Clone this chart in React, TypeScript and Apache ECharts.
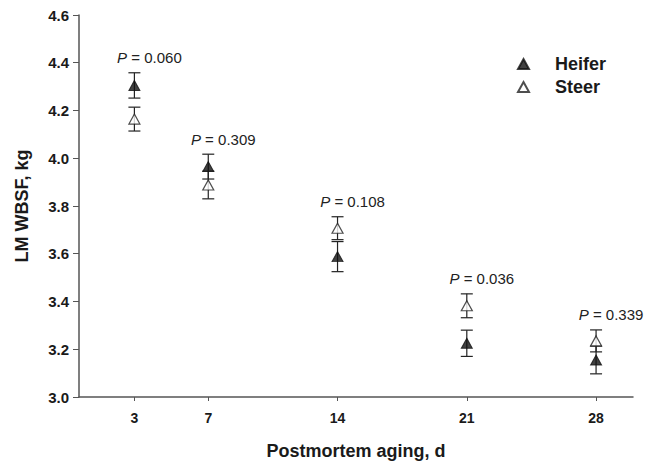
import React, { useEffect, useRef } from "react";
import * as echarts from "echarts";

const days = [3, 7, 14, 21, 28];
const heiferMean = [4.305, 3.965, 3.588, 3.225, 3.155];
const heiferSE = [0.053, 0.052, 0.063, 0.055, 0.058];
const steerMean = [4.164, 3.888, 3.707, 3.382, 3.235];
const steerSE = [0.05, 0.058, 0.048, 0.05, 0.046];
const pValues = ["0.060", "0.309", "0.108", "0.036", "0.339"];
const yTicks = [3.0, 3.2, 3.4, 3.6, 3.8, 4.0, 4.2, 4.4, 4.6];

const FONT = "Liberation Sans, Arial, Helvetica, sans-serif";
const INK = "#1a1a1a";

export default function App() {
  const ref = useRef<HTMLDivElement>(null);
  useEffect(() => {
    if (!ref.current) return;
    const chart = echarts.init(ref.current, undefined, { renderer: "svg" });

    const errData = (means: number[], se: number[]) =>
      days.map((d, i) => [d, means[i] - se[i], means[i] + se[i]]);

    const errRender = (params: any, api: any) => {
      const x = api.value(0);
      const lo = api.coord([x, api.value(1)]);
      const hi = api.coord([x, api.value(2)]);
      const hw = 6;
      const st = { stroke: "#222", lineWidth: 1.2 };
      return {
        type: "group",
        children: [
          { type: "line", shape: { x1: lo[0], y1: lo[1], x2: hi[0], y2: hi[1] }, style: st },
          { type: "line", shape: { x1: lo[0] - hw, y1: lo[1], x2: lo[0] + hw, y2: lo[1] }, style: st },
          { type: "line", shape: { x1: hi[0] - hw, y1: hi[1], x2: hi[0] + hw, y2: hi[1] }, style: st },
        ],
      };
    };

    const pData = days.map((d, i) => [
      d,
      Math.max(heiferMean[i] + heiferSE[i], steerMean[i] + steerSE[i]),
      i,
    ]);

    chart.setOption({
      animation: false,
      grid: {
        left: 79,
        right: 20,
        top: 15,
        bottom: 66,
        containLabel: false,
        outerBoundsMode: "none",
      },
      legend: {
        orient: "vertical",
        left: 512,
        top: 50,
        itemWidth: 11,
        itemHeight: 10,
        itemGap: 5,
        data: [
          { name: "Heifer", icon: "triangle" },
          { name: "Steer", icon: "triangle" },
        ],
        textStyle: {
          fontFamily: FONT,
          fontWeight: "bold",
          fontSize: 18,
          color: INK,
          padding: [0, 0, 0, 21],
        },
      },
      xAxis: {
        type: "value",
        min: 0,
        max: 30,
        name: "Postmortem aging, d",
        nameLocation: "middle",
        nameGap: 45,
        nameTextStyle: { fontFamily: FONT, fontWeight: "bold", fontSize: 18, color: INK },
        axisLine: { lineStyle: { color: "#555", width: 1.5 } },
        axisTick: { show: true, customValues: days, length: 4, lineStyle: { color: "#555" } },
        axisLabel: {
          customValues: days,
          margin: 14,
          fontFamily: FONT,
          fontWeight: "bold",
          fontSize: 14,
          color: INK,
        },
        splitLine: { show: false },
      },
      yAxis: {
        type: "value",
        min: 3.0,
        max: 4.6,
        interval: 0.2,
        name: "LM WBSF, kg",
        nameLocation: "middle",
        nameGap: 48,
        nameTextStyle: { fontFamily: FONT, fontWeight: "bold", fontSize: 18, color: INK },
        axisLine: { show: true, lineStyle: { color: "#555", width: 1.5 } },
        axisTick: { show: true, length: 6, lineStyle: { color: "#555" } },
        axisLabel: {
          customValues: yTicks,
          formatter: (v: number) => v.toFixed(1),
          margin: 10,
          fontFamily: FONT,
          fontWeight: "bold",
          fontSize: 15,
          color: INK,
        },
        splitLine: { show: false },
      },
      series: [
        {
          type: "custom",
          name: "heiferErr",
          renderItem: errRender,
          data: errData(heiferMean, heiferSE),
          z: 1,
          silent: true,
        },
        {
          type: "custom",
          name: "steerErr",
          renderItem: errRender,
          data: errData(steerMean, steerSE),
          z: 1,
          silent: true,
        },
        {
          type: "scatter",
          name: "Heifer",
          symbol: "triangle",
          symbolSize: [11, 10],
          itemStyle: { color: "#111", borderColor: "#111", borderWidth: 1 },
          data: days.map((d, i) => [d, heiferMean[i]]),
          z: 3,
        },
        {
          type: "scatter",
          name: "Steer",
          symbol: "triangle",
          symbolSize: [11, 10],
          itemStyle: { color: "#fff", borderColor: "#222", borderWidth: 1.2 },
          data: days.map((d, i) => [d, steerMean[i]]),
          z: 3,
        },
        {
          type: "custom",
          name: "pLabels",
          silent: true,
          data: pData,
          renderItem: (params: any, api: any) => {
            const pt = api.coord([api.value(0), api.value(1)]);
            const idx = api.value(2);
            return {
              type: "text",
              x: pt[0] + 15,
              y: pt[1] - 15,
              style: {
                text: "{i|P} = " + pValues[idx],
                align: "center",
                verticalAlign: "middle",
                fontFamily: FONT,
                fontSize: 15,
                fill: "#222",
                rich: {
                  i: { fontStyle: "italic", fontFamily: FONT, fontSize: 15, fill: "#222" },
                },
              },
            };
          },
        },
      ],
    });
    return () => chart.dispose();
  }, []);

  return <div ref={ref} style={{ width: 653, height: 463, position: "absolute", left: 0, top: 0, background: "#fff" }} />;
}
